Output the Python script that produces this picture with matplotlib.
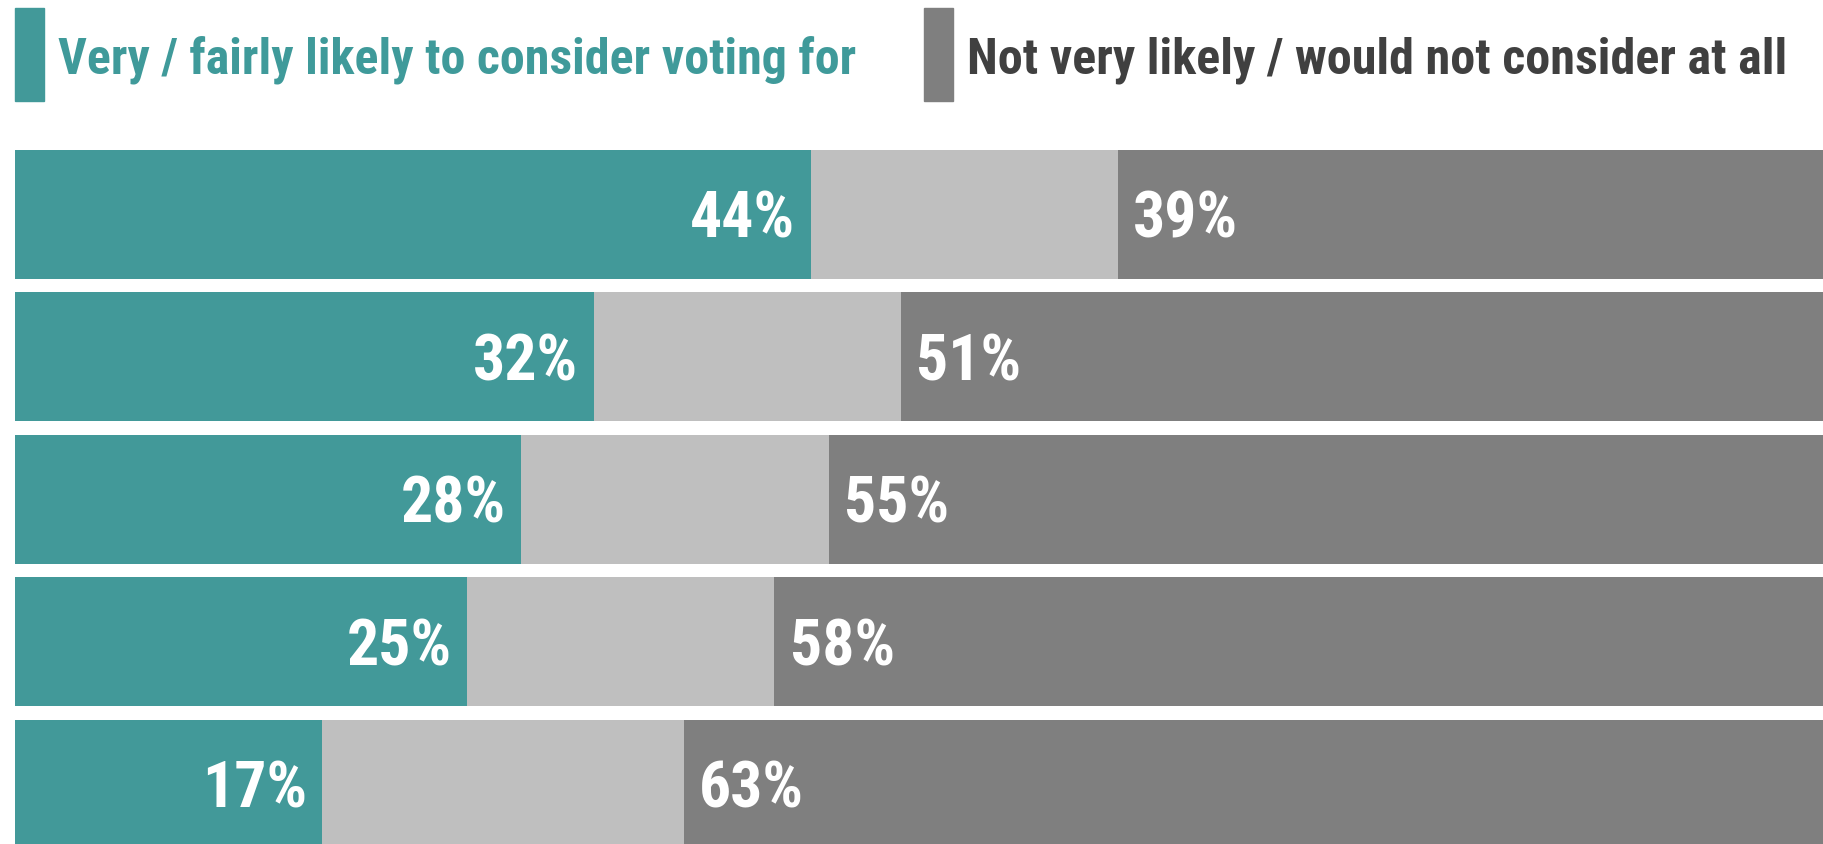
import matplotlib
matplotlib.use('Agg')
import matplotlib.pyplot as plt
from matplotlib.patches import Rectangle

# data
likely = [44, 32, 28, 25, 17]
unlikely = [39, 51, 55, 58, 63]
neither = [100 - a - b for a, b in zip(likely, unlikely)]
legend_labels = ['Very / fairly likely to consider voting for',
                 'Not very likely / would not consider at all']

teal = '#429999'
light = '#bfbfbf'
dark = '#7f7f7f'

plt.rcParams['font.family'] = ['Roboto Condensed', 'DejaVu Sans']

W, H = 1823, 845
fig = plt.figure(figsize=(W / 100, H / 100), dpi=100)
renderer = fig.canvas.get_renderer()


def fit_width(t, target):
    # scale the font so the text spans roughly target pixels
    for _ in range(3):
        w = t.get_window_extent(renderer).width
        t.set_fontsize(t.get_fontsize() * target / w)


ax = fig.add_axes([15 / W, 0, 1 - 15 / W, (H - 151) / H])
rows = list(range(len(likely)))
bh = 129 / 142.5
ax.barh(rows, likely, height=bh, color=teal)
ax.barh(rows, neither, left=likely, height=bh, color=light)
left_dark = [a + b for a, b in zip(likely, neither)]
ax.barh(rows, unlikely, left=left_dark, height=bh, color=dark)
ax.set_xlim(0, 100)
ax.set_ylim(3.5474 + (H - 721) / 142.5, -0.4526)
ax.axis('off')

probe = ax.text(0, 0, '44%', fontsize=40, fontweight='bold')
fit_width(probe, 105)
pct_size = probe.get_fontsize()
probe.remove()

for y, a, l in zip(rows, likely, left_dark):
    ax.text(a - 0.85, y + 0.155, '{:d}%'.format(a), ha='right', va='baseline',
            color='white', fontsize=pct_size, fontweight='bold')
    ax.text(l + 0.85, y + 0.155, '{:d}%'.format(100 - l), ha='left', va='baseline',
            color='white', fontsize=pct_size, fontweight='bold')

# legend swatches and labels
fig.patches.append(Rectangle((15 / W, 1 - 102 / H), 29 / W, 93 / H,
                             transform=fig.transFigure, color=teal))
fig.patches.append(Rectangle((924 / W, 1 - 102 / H), 29 / W, 93 / H,
                             transform=fig.transFigure, color=dark))
t1 = fig.text(58 / W, 1 - 73 / H, legend_labels[0], color='#3f9a9a',
              fontsize=34, fontweight='bold', va='baseline', ha='left')
t2 = fig.text(967 / W, 1 - 73 / H, legend_labels[1], color='#404040',
              fontsize=34, fontweight='bold', va='baseline', ha='left')
fit_width(t1, 797)
fit_width(t2, 821)

fig.savefig('out.png', dpi=100)
